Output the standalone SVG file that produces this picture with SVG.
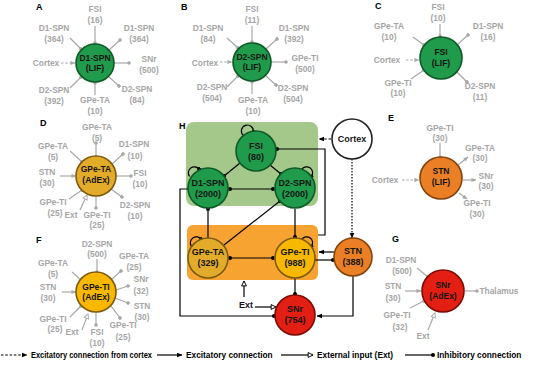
<svg xmlns="http://www.w3.org/2000/svg" width="545" height="371" viewBox="0 0 545 371">
<style>
text{font-family:"Liberation Sans",Arial,sans-serif;font-weight:bold}
.lab{font-size:8.4px;fill:#a6a6a6;text-anchor:middle}
.nt{font-size:8.5px;fill:#151515;text-anchor:middle}
.ht{font-size:9px;fill:#151515;text-anchor:middle}
.pl{font-size:9px;fill:#000}
.lg{font-size:8.3px;fill:#000}
.sp{stroke:#a8a8a8;stroke-width:1.2;fill:none}
.cn{stroke:#000;stroke-width:1.2;fill:none}
.dash{stroke-dasharray:2.5,1.8}
.dot{stroke-dasharray:1.5,1.5}
.grn{fill:#1f9b4b;stroke:#0d5a26;stroke-width:1.6}
.gta{fill:#e2ac2a;stroke:#7d5b0e;stroke-width:1.6}
.gti{fill:#f8b800;stroke:#7d5b0e;stroke-width:1.6}
.stn{fill:#ea7f25;stroke:#85420c;stroke-width:1.6}
.snr{fill:#e21f12;stroke:#7a0c06;stroke-width:1.6}
.ctx{fill:#fff;stroke:#222;stroke-width:1.6}
</style>
<defs>
<marker id="gt" viewBox="0 0 6 6" refX="5.5" refY="3" markerWidth="5" markerHeight="5" orient="auto" markerUnits="userSpaceOnUse"><path d="M0,0.5 L6,3 L0,5.5z" fill="#a8a8a8"/></marker>
<marker id="gd" viewBox="0 0 6 6" refX="3" refY="3" markerWidth="3.6" markerHeight="3.6" orient="auto" markerUnits="userSpaceOnUse"><circle cx="3" cy="3" r="3" fill="#a8a8a8"/></marker>
<marker id="gh" viewBox="0 0 8 8" refX="7" refY="4" markerWidth="6" markerHeight="6" orient="auto" markerUnits="userSpaceOnUse"><path d="M1,1 L7,4 L1,7z" fill="#fff" stroke="#a8a8a8" stroke-width="1.2"/></marker>
<marker id="bt" viewBox="0 0 6 6" refX="5.5" refY="3" markerWidth="5.5" markerHeight="5.5" orient="auto" markerUnits="userSpaceOnUse"><path d="M0,0.5 L6,3 L0,5.5z" fill="#000"/></marker>
<marker id="bd" viewBox="0 0 6 6" refX="3" refY="3" markerWidth="4" markerHeight="4" orient="auto" markerUnits="userSpaceOnUse"><circle cx="3" cy="3" r="3" fill="#000"/></marker>
<marker id="bh" viewBox="0 0 8 8" refX="7" refY="4" markerWidth="6.5" markerHeight="6.5" orient="auto" markerUnits="userSpaceOnUse"><path d="M1,1 L7,4 L1,7z" fill="#fff" stroke="#000" stroke-width="1.2"/></marker>
</defs>
<rect width="545" height="371" fill="#fff"/>

<!-- Panel A -->
<g id="panelA">
<text class="pl" x="36" y="10">A</text>
<g class="sp">
<line x1="95" y1="26" x2="95" y2="43" marker-end="url(#gd)"/>
<line x1="70" y1="38" x2="81" y2="49" marker-end="url(#gd)"/>
<line x1="109" y1="50" x2="120" y2="40" marker-end="url(#gd)"/>
<line x1="114" y1="63" x2="129" y2="63" marker-end="url(#gd)"/>
<line x1="109" y1="77" x2="119" y2="86" marker-end="url(#gd)"/>
<line x1="95" y1="95" x2="95" y2="83" marker-end="url(#gd)"/>
<line x1="70" y1="88" x2="81" y2="77" marker-end="url(#gd)"/>
<line class="dash" x1="61" y1="63" x2="75" y2="63" marker-end="url(#gt)"/>
</g>
<g id="A-D1SPN"><circle class="grn" cx="95" cy="63" r="19"/><text class="nt" x="95" y="61">D1-SPN</text><text class="nt" x="95" y="71">(LIF)</text></g>
<text class="lab" x="95" y="12">FSI</text><text class="lab" x="95" y="23">(16)</text>
<text class="lab" x="54" y="31">D1-SPN</text><text class="lab" x="54" y="42">(364)</text>
<text class="lab" x="139" y="31">D1-SPN</text><text class="lab" x="139" y="42">(364)</text>
<text class="lab" x="149" y="62">SNr</text><text class="lab" x="149" y="73">(500)</text>
<text class="lab" x="137" y="92">D2-SPN</text><text class="lab" x="137" y="103">(84)</text>
<text class="lab" x="95" y="103">GPe-TA</text><text class="lab" x="95" y="114">(10)</text>
<text class="lab" x="54" y="93">D2-SPN</text><text class="lab" x="54" y="104">(392)</text>
<text class="lab" x="46" y="66">Cortex</text>
</g>

<!-- Panel B -->
<g id="panelB">
<text class="pl" x="181" y="10">B</text>
<g class="sp">
<line x1="252" y1="26" x2="252" y2="42" marker-end="url(#gd)"/>
<line x1="227" y1="38" x2="238" y2="48" marker-end="url(#gd)"/>
<line x1="266" y1="49" x2="277" y2="39" marker-end="url(#gd)"/>
<line x1="271" y1="62" x2="286" y2="62" marker-end="url(#gd)"/>
<line x1="266" y1="76" x2="276" y2="85" marker-end="url(#gd)"/>
<line x1="252" y1="94" x2="252" y2="82" marker-end="url(#gd)"/>
<line x1="227" y1="87" x2="238" y2="76" marker-end="url(#gd)"/>
<line class="dash" x1="220" y1="62" x2="232" y2="62" marker-end="url(#gt)"/>
</g>
<g id="B-D2SPN"><circle class="grn" cx="252" cy="62" r="19"/><text class="nt" x="252" y="60">D2-SPN</text><text class="nt" x="252" y="70">(LIF)</text></g>
<text class="lab" x="252" y="12">FSI</text><text class="lab" x="252" y="23">(11)</text>
<text class="lab" x="208" y="31">D1-SPN</text><text class="lab" x="208" y="42">(84)</text>
<text class="lab" x="205" y="66">Cortex</text>
<text class="lab" x="212" y="90">D2-SPN</text><text class="lab" x="212" y="101">(504)</text>
<text class="lab" x="253" y="103">GPe-TA</text><text class="lab" x="253" y="114">(10)</text>
<text class="lab" x="294" y="31">D1-SPN</text><text class="lab" x="294" y="42">(392)</text>
<text class="lab" x="305" y="61">GPe-TI</text><text class="lab" x="305" y="72">(500)</text>
<text class="lab" x="293" y="91">D2-SPN</text><text class="lab" x="293" y="102">(504)</text>
</g>

<!-- Panel C -->
<g id="panelC">
<text class="pl" x="375" y="9">C</text>
<g class="sp">
<line x1="440" y1="24" x2="440" y2="36" marker-end="url(#gd)"/>
<line x1="413" y1="37" x2="424" y2="45" marker-end="url(#gd)"/>
<line x1="457" y1="45" x2="468" y2="35" marker-end="url(#gd)"/>
<line x1="411" y1="79" x2="424" y2="70" marker-end="url(#gd)"/>
<line x1="457" y1="72" x2="467" y2="82" marker-end="url(#gd)"/>
<line class="dash" x1="406" y1="60" x2="419" y2="60" marker-end="url(#gt)"/>
</g>
<g id="C-FSI"><circle class="grn" cx="441" cy="58" r="21"/><text class="nt" x="441" y="55">FSI</text><text class="nt" x="441" y="66">(LIF)</text></g>
<text class="lab" x="438" y="10">FSI</text><text class="lab" x="438" y="21">(10)</text>
<text class="lab" x="389" y="29">GPe-TA</text><text class="lab" x="389" y="40">(10)</text>
<text class="lab" x="488" y="29">D1-SPN</text><text class="lab" x="488" y="40">(16)</text>
<text class="lab" x="387" y="63">Cortex</text>
<text class="lab" x="398" y="86">GPe-TI</text><text class="lab" x="398" y="96">(10)</text>
<text class="lab" x="480" y="89">D2-SPN</text><text class="lab" x="480" y="100">(11)</text>
</g>

<!-- Panel D -->
<g id="panelD">
<text class="pl" x="40" y="126">D</text>
<g class="sp">
<line x1="96" y1="156" x2="96" y2="143" marker-end="url(#gd)"/>
<line x1="70" y1="151" x2="82" y2="162" marker-end="url(#gd)"/>
<line x1="60" y1="176" x2="76" y2="176" marker-end="url(#gt)"/>
<line x1="69" y1="199" x2="82" y2="190" marker-end="url(#gd)"/>
<line x1="80" y1="210" x2="87" y2="195" marker-end="url(#gh)"/>
<line x1="96" y1="196" x2="96" y2="208" marker-end="url(#gd)"/>
<line x1="111" y1="189" x2="122" y2="197" marker-end="url(#gd)"/>
<line x1="116" y1="176" x2="131" y2="176" marker-end="url(#gd)"/>
<line x1="112" y1="164" x2="123" y2="154" marker-end="url(#gd)"/>
</g>
<g id="D-GPeTA"><circle class="gta" cx="96" cy="176" r="20"/><text class="nt" x="96" y="172">GPe-TA</text><text class="nt" x="96" y="183">(AdEx)</text></g>
<text class="lab" x="97" y="130">GPe-TA</text><text class="lab" x="97" y="141">(5)</text>
<text class="lab" x="53" y="149">GPe-TA</text><text class="lab" x="53" y="160">(5)</text>
<text class="lab" x="47" y="175">STN</text><text class="lab" x="47" y="186">(30)</text>
<text class="lab" x="53" y="205">GPe-TI</text><text class="lab" x="55" y="216">(25)</text>
<text class="lab" x="71" y="218">Ext</text>
<text class="lab" x="97" y="218">GPe-TI</text><text class="lab" x="97" y="228">(25)</text>
<text class="lab" x="134" y="147">D1-SPN</text><text class="lab" x="135" y="159">(10)</text>
<text class="lab" x="140" y="176">FSI</text><text class="lab" x="140" y="187">(10)</text>
<text class="lab" x="135" y="208">D2-SPN</text><text class="lab" x="135" y="219">(10)</text>
</g>

<!-- Panel E -->
<g id="panelE">
<text class="pl" x="388" y="121">E</text>
<g class="sp">
<line x1="440" y1="143" x2="440" y2="157" marker-end="url(#gd)"/>
<line x1="458" y1="165" x2="468" y2="157" marker-end="url(#gt)"/>
<line x1="463" y1="180" x2="476" y2="180" marker-end="url(#gt)"/>
<line x1="459" y1="193" x2="467" y2="199" marker-end="url(#gt)"/>
<line class="dash" x1="402" y1="180" x2="419" y2="180" marker-end="url(#gt)"/>
</g>
<g id="E-STN"><circle class="stn" cx="441" cy="178" r="21"/><text class="nt" x="441" y="174">STN</text><text class="nt" x="441" y="185">(LIF)</text></g>
<text class="lab" x="440" y="131">GPe-TI</text><text class="lab" x="440" y="141">(30)</text>
<text class="lab" x="480" y="151">GPe-TA</text><text class="lab" x="480" y="161">(30)</text>
<text class="lab" x="486" y="179">SNr</text><text class="lab" x="486" y="189">(30)</text>
<text class="lab" x="477" y="206">GPe-TI</text><text class="lab" x="477" y="217">(30)</text>
<text class="lab" x="385" y="183">Cortex</text>
</g>

<!-- Panel F -->
<g id="panelF">
<text class="pl" x="36" y="243">F</text>
<g class="sp">
<line x1="97" y1="259" x2="97" y2="272" marker-end="url(#gd)"/>
<line x1="72" y1="272" x2="82" y2="281" marker-end="url(#gd)"/>
<line x1="62" y1="292" x2="76" y2="292" marker-end="url(#gt)"/>
<line x1="70" y1="317" x2="81" y2="306" marker-end="url(#gd)"/>
<line x1="82" y1="330" x2="88" y2="314" marker-end="url(#gh)"/>
<line x1="96" y1="312" x2="96" y2="325" marker-end="url(#gd)"/>
<line x1="111" y1="306" x2="120" y2="318" marker-end="url(#gd)"/>
<line x1="115" y1="298" x2="128" y2="303" marker-end="url(#gd)"/>
<line x1="116" y1="290" x2="128" y2="286" marker-end="url(#gd)"/>
<line x1="112" y1="279" x2="121" y2="271" marker-end="url(#gd)"/>
</g>
<g id="F-GPeTI"><circle class="gti" cx="96" cy="292" r="20"/><text class="nt" x="96" y="290">GPe-TI</text><text class="nt" x="96" y="300">(AdEx)</text></g>
<text class="lab" x="97" y="247">D2-SPN</text><text class="lab" x="97" y="257">(500)</text>
<text class="lab" x="53" y="266">GPe-TA</text><text class="lab" x="53" y="277">(5)</text>
<text class="lab" x="48" y="290">STN</text><text class="lab" x="48" y="301">(30)</text>
<text class="lab" x="53" y="322">GPe-TI</text><text class="lab" x="55" y="332">(25)</text>
<text class="lab" x="72" y="335">Ext</text>
<text class="lab" x="97" y="335">FSI</text><text class="lab" x="97" y="346">(10)</text>
<text class="lab" x="134" y="259">GPe-TA</text><text class="lab" x="134" y="270">(25)</text>
<text class="lab" x="141" y="282">SNr</text><text class="lab" x="141" y="294">(32)</text>
<text class="lab" x="142" y="309">STN</text><text class="lab" x="142" y="320">(30)</text>
<text class="lab" x="123" y="328">GPe-TI</text><text class="lab" x="123" y="340">(25)</text>
</g>

<!-- Panel G -->
<g id="panelG">
<text class="pl" x="392" y="242">G</text>
<g class="sp">
<line x1="417" y1="268" x2="428" y2="277" marker-end="url(#gd)"/>
<line x1="405" y1="291" x2="421" y2="291" marker-end="url(#gt)"/>
<line x1="410" y1="308" x2="424" y2="301" marker-end="url(#gd)"/>
<line x1="428" y1="330" x2="435" y2="313" marker-end="url(#gh)"/>
<line x1="465" y1="291" x2="477" y2="291" marker-end="url(#gd)"/>
</g>
<g id="G-SNr"><circle class="snr" cx="443" cy="291" r="21"/><text class="nt" x="443" y="288">SNr</text><text class="nt" x="443" y="299">(AdEx)</text></g>
<text class="lab" x="401" y="263">D1-SPN</text><text class="lab" x="402" y="274">(500)</text>
<text class="lab" x="393" y="289">STN</text><text class="lab" x="393" y="301">(30)</text>
<text class="lab" x="397" y="318">GPe-TI</text><text class="lab" x="400" y="330">(32)</text>
<text class="lab" x="423" y="339">Ext</text>
<text class="lab" x="499" y="294">Thalamus</text>
</g>

<!-- Panel H -->
<g id="panelH">
<text class="pl" x="179" y="129">H</text>
<rect id="striatum-box" x="186" y="122" width="132" height="84" rx="8" fill="#a3c88a"/>
<rect id="gpe-box" x="187" y="225" width="131" height="55" rx="6" fill="#f7a332"/>
<g id="connectors" class="cn">
<path d="M243.5,135.6 A6,6 0 1 1 253.3,132.1" marker-end="url(#bd)"/>
<path d="M189.6,176.5 A6,6 0 1 1 199.2,169.2" marker-end="url(#bd)"/>
<path d="M301.8,169.2 A6,6 0 1 1 311.4,176.5" marker-end="url(#bd)"/>
<path d="M191.6,246.5 A6,6 0 1 1 201.2,239.2" marker-end="url(#bd)"/>
<path d="M301.8,239.2 A6,6 0 1 1 311.4,246.5" marker-end="url(#bd)"/>
<line x1="240" y1="163" x2="224" y2="176" marker-end="url(#bd)"/>
<line x1="270" y1="165" x2="281" y2="174" marker-end="url(#bd)"/>
<line x1="230" y1="189" x2="273" y2="189" marker-start="url(#bd)" marker-end="url(#bd)"/>
<line x1="208" y1="238" x2="208" y2="209" marker-end="url(#bd)"/>
<line x1="224" y1="245" x2="280" y2="201" marker-end="url(#bd)"/>
<line x1="295" y1="209" x2="295" y2="237" marker-end="url(#bd)"/>
<line x1="230" y1="258" x2="273" y2="258" marker-start="url(#bd)" marker-end="url(#bd)"/>
<polyline points="318,235 325,235 325,149 277,149" marker-end="url(#bd)"/>
<polyline points="188,189 180,189 180,316 274,316" marker-end="url(#bd)"/>
<line x1="334" y1="252" x2="319" y2="252" marker-end="url(#bt)"/>
<line x1="315" y1="260" x2="333" y2="260" marker-end="url(#bd)"/>
<line x1="295" y1="278" x2="295" y2="294" marker-end="url(#bd)"/>
<polyline points="353,276 353,316 317,316" marker-end="url(#bt)"/>
<line class="dot" x1="352" y1="159" x2="352" y2="238" marker-end="url(#bt)"/>
<line class="dash" x1="331" y1="139" x2="319" y2="139" marker-end="url(#bt)"/>
<line x1="255" y1="307" x2="276" y2="307" marker-end="url(#bh)"/>
<line x1="244" y1="297" x2="244" y2="281" marker-end="url(#bh)"/>
</g>
<g id="H-FSI"><circle class="grn" cx="256" cy="151" r="20"/><text class="ht" x="256" y="149">FSI</text><text class="ht" x="256" y="160">(80)</text></g>
<g id="H-D1SPN"><circle class="grn" cx="208" cy="188" r="20"/><text class="ht" x="208" y="186">D1-SPN</text><text class="ht" x="208" y="197">(2000)</text></g>
<g id="H-D2SPN"><circle class="grn" cx="295" cy="188" r="20"/><text class="ht" x="295" y="186">D2-SPN</text><text class="ht" x="295" y="197">(2000)</text></g>
<g id="H-Cortex"><circle class="ctx" cx="352" cy="139" r="20"/><text class="ht" x="352" y="142">Cortex</text></g>
<g id="H-GPeTA"><circle class="gta" cx="208" cy="258" r="20"/><text class="ht" x="208" y="255">GPe-TA</text><text class="ht" x="208" y="266">(329)</text></g>
<g id="H-GPeTI"><circle class="gti" cx="295" cy="258" r="20"/><text class="ht" x="295" y="255">GPe-TI</text><text class="ht" x="295" y="266">(988)</text></g>
<g id="H-STN"><circle class="stn" cx="353" cy="257" r="19"/><text class="ht" x="353" y="254">STN</text><text class="ht" x="353" y="265">(388)</text></g>
<g id="H-SNr"><circle class="snr" cx="295" cy="315" r="20"/><text class="ht" x="295" y="312">SNr</text><text class="ht" x="295" y="323">(754)</text></g>
<text class="ht" x="246" y="308">Ext</text>
</g>

<!-- Legend -->
<g id="legend">
<line class="cn dash" x1="1" y1="355" x2="27" y2="355" marker-end="url(#bt)"/>
<text class="lg" x="31" y="358" textLength="121" lengthAdjust="spacingAndGlyphs">Excitatory connection from cortex</text>
<line class="cn" x1="157" y1="355" x2="182" y2="355" marker-end="url(#bt)"/>
<text class="lg" x="186" y="358">Excitatory connection</text>
<line class="cn" x1="281" y1="355" x2="313" y2="355" marker-end="url(#bh)"/>
<text class="lg" x="317" y="358">External input (Ext)</text>
<line class="cn" x1="405" y1="355" x2="433" y2="355" marker-end="url(#bd)"/>
<text class="lg" x="437" y="358">Inhibitory connection</text>
</g>
</svg>
